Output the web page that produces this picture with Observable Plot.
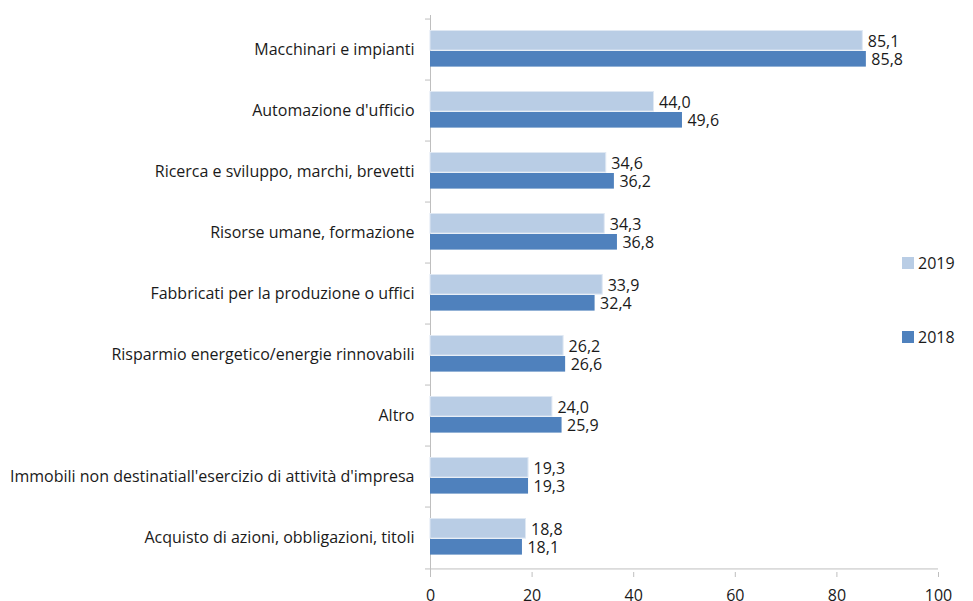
<!DOCTYPE html>
<html>
<head>
<meta charset="utf-8">
<script src="https://cdn.jsdelivr.net/npm/d3@7"></script>
<script src="https://cdn.jsdelivr.net/npm/@observablehq/plot@0.6"></script>
<style>
  html, body { margin: 0; padding: 0; background: #fff; }
  #wrap { position: relative; width: 973px; height: 601px; font-family: "Open Sans", sans-serif; }
  .leg { position: absolute; display: flex; align-items: center; font-size: 16px; color: #1a1a1a; }
  .sw { width: 12px; height: 12px; margin-right: 4px; }
</style>
</head>
<body>
<div id="wrap"></div>
<script>
const categories = [
  "Macchinari e impianti",
  "Automazione d'ufficio",
  "Ricerca e sviluppo, marchi, brevetti",
  "Risorse umane, formazione",
  "Fabbricati per la produzione o uffici",
  "Risparmio energetico/energie rinnovabili",
  "Altro",
  "Immobili non destinatiall'esercizio di attività d'impresa",
  "Acquisto di azioni, obbligazioni, titoli"
];
const values2019 = [85.1, 44.0, 34.6, 34.3, 33.9, 26.2, 24.0, 19.3, 18.8];
const values2018 = [85.8, 49.6, 36.2, 36.8, 32.4, 26.6, 25.9, 19.3, 18.1];
const xTicks = [0, 20, 40, 60, 80, 100];
const seriesNames = ["2019", "2018"];
const colors = {"2019": "#b9cde5", "2018": "#4f81bd"};

const d2019 = categories.map((c, i) => ({cat: c, v: values2019[i]}));
const d2018 = categories.map((c, i) => ({cat: c, v: values2018[i]}));
const fmt = v => v.toFixed(1).replace(".", ",");

const H = 601, mt = 15, mb = 29;
const band = (H - mt - mb) / categories.length;
const half = band / 2;
const FS = 16;
const ink = "#1a1a1a";

const chart = Plot.plot({
  width: 973,
  height: H,
  marginLeft: 430,
  marginRight: 35,
  marginTop: mt,
  marginBottom: mb,
  style: {fontFamily: "'Open Sans', sans-serif", fontSize: FS + "px", color: ink, background: "#fff"},
  x: {domain: [0, 100]},
  y: {domain: categories, padding: 0},
  marks: [
    Plot.ruleX([0], {stroke: "#bfbfbf"}),
    Plot.ruleY(categories, {y: d => d, dy: -half, x1: 0, x2: 0, insetLeft: -5, stroke: "#bfbfbf"}),
    Plot.ruleY([categories[categories.length - 1]], {y: d => d, dy: half, x1: 0, x2: 100, insetLeft: -5, stroke: "#bfbfbf"}),
    Plot.barX(d2019, {x: "v", y: "cat", fill: colors["2019"], stroke: "#dfe8f3", strokeWidth: 1, insetTop: 11.5, insetBottom: band - 32}),
    Plot.barX(d2018, {x: "v", y: "cat", fill: colors["2018"], insetTop: 32, insetBottom: band - 48.5}),
    Plot.text(d2019, {x: "v", y: "cat", text: d => fmt(d.v), textAnchor: "start", dx: 5, dy: -8.5, fontSize: FS, fill: ink}),
    Plot.text(d2018, {x: "v", y: "cat", text: d => fmt(d.v), textAnchor: "start", dx: 5, dy: 9.8, fontSize: FS, fill: ink}),
    Plot.axisY({tickSize: 0, tickPadding: 16, fontSize: FS, fill: ink, label: null}),
    Plot.axisX({ticks: xTicks, tickSize: 5, tickPadding: 12, fontSize: FS, stroke: "#bfbfbf", fill: ink, label: null, tickFormat: d => d})
  ]
});

const wrap = document.getElementById("wrap");
wrap.appendChild(chart);

const legPos = {"2019": 262.5, "2018": 337};
seriesNames.forEach(s => {
  const el = document.createElement("div");
  el.className = "leg";
  el.style.left = "902px";
  el.style.top = (legPos[s] - 11) + "px";
  el.style.height = "22px";
  el.innerHTML = `<div class="sw" style="background:${colors[s]}"></div><span>${s}</span>`;
  wrap.appendChild(el);
});
</script>
</body>
</html>
